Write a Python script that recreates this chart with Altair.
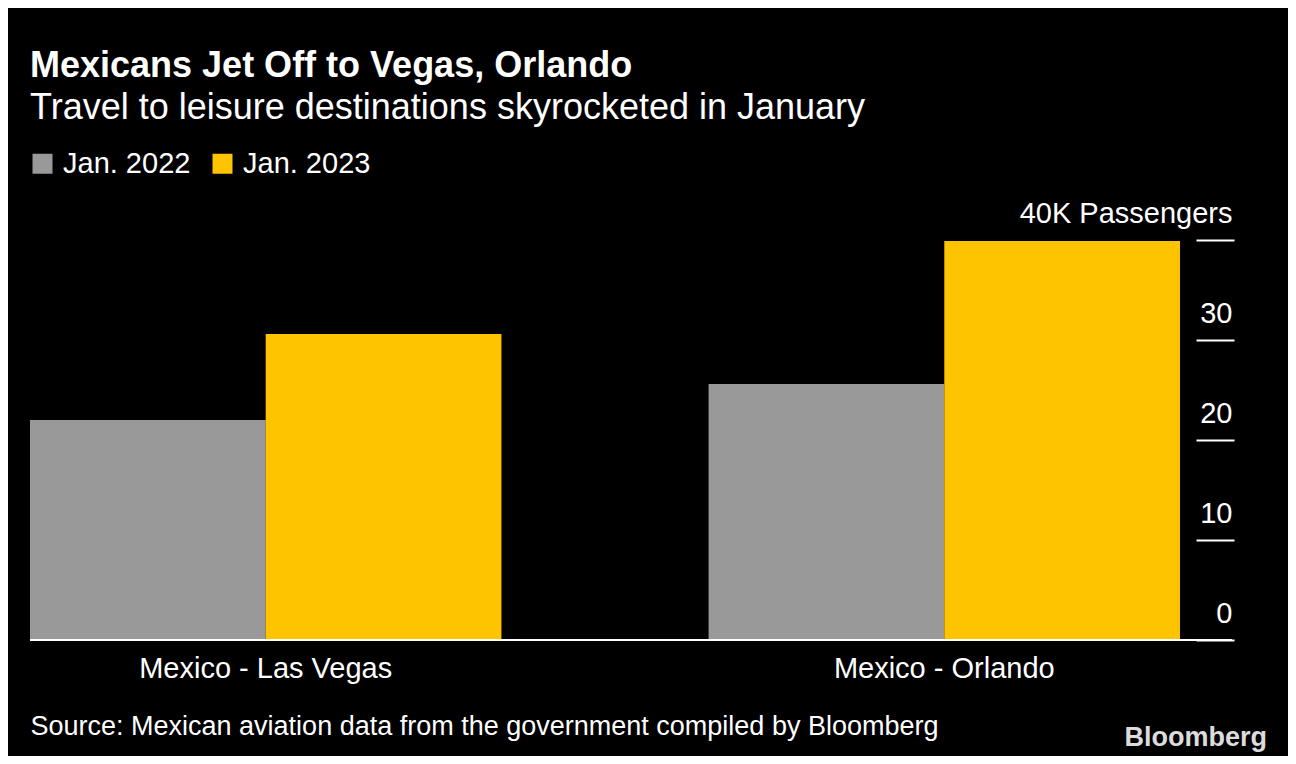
import altair as alt
import pandas as pd

# ---- data ----
routes = ["Mexico - Las Vegas", "Mexico - Las Vegas", "Mexico - Orlando", "Mexico - Orlando"]
periods = ["Jan. 2022", "Jan. 2023", "Jan. 2022", "Jan. 2023"]
passengers_k = [22.0, 30.6, 25.6, 39.9]
series = ["Jan. 2022", "Jan. 2023"]
series_colors = ["#999999", "#FFC400"]
route_order = ["Mexico - Las Vegas", "Mexico - Orlando"]
y_ticks = [0, 10, 20, 30, 40]

title_text = "Mexicans Jet Off to Vegas, Orlando"
subtitle_text = "Travel to leisure destinations skyrocketed in January"
source_text = "Source: Mexican aviation data from the government compiled by Bloomberg"
logo_text = ["Bloomberg"]

df = pd.DataFrame({"route": routes, "period": periods, "value": passengers_k})
FONT = "Liberation Sans"

bars = alt.Chart(df).mark_bar(strokeWidth=0).encode(
    x=alt.X(
        "route:N",
        sort=route_order,
        scale=alt.Scale(paddingInner=0.3053, paddingOuter=0),
        axis=alt.Axis(
            orient="bottom", domain=False, ticks=False, tickSize=0, labelAngle=0,
            labelFont=FONT, labelFontSize=29, labelColor="white", labelLimit=0,
            labelBaseline="alphabetic", labelPadding=37,
            title=source_text, titleX=0, titleY=94, titleAlign="left",
            titleBaseline="alphabetic", titleFont=FONT, titleFontSize=27,
            titleFontWeight="normal", titleColor="white", titleAnchor="start",
            titleLimit=0,
        ),
    ),
    xOffset=alt.XOffset("period:N", sort=series, scale=alt.Scale(paddingInner=0, paddingOuter=0)),
    y=alt.Y(
        "value:Q",
        scale=alt.Scale(domain=[0, 40], nice=False),
        axis=alt.Axis(
            orient="right", values=y_ticks, offset=16, tickSize=38, tickColor="white",
            tickWidth=2, domain=False, grid=False, labelAlign="right", labelPadding=-2,
            labelBaseline="alphabetic", labelOffset=-18, labelFont=FONT, labelFontSize=29,
            labelColor="white", labelOverlap=False, labelBound=False, labelLimit=0,
            labelExpr="datum.value == 40 ? '40K Passengers' : datum.label",
            title=None,
        ),
    ),
    color=alt.Color(
        "period:N",
        scale=alt.Scale(domain=series, range=series_colors),
        legend=alt.Legend(
            orient="none", legendX=-2, legendY=-91, direction="horizontal", title=None,
            symbolType="square", symbolSize=400, symbolStrokeWidth=0, symbolOpacity=1,
            labelFont=FONT, labelFontSize=29, labelColor="white", labelOffset=6,
            columnPadding=17, padding=0,
        ),
    ),
)

zero = alt.Chart(pd.DataFrame({"base": [0]})).mark_rule(color="white", strokeWidth=2).encode(
    y=alt.datum(0), x=alt.value(0), x2=alt.value(1202)
)

logo = alt.Chart(pd.DataFrame({"t": logo_text})).mark_text(
    font=FONT, fontSize=27, fontWeight="bold", color="#dcdcdc", align="right", baseline="alphabetic"
).encode(text="t:N", x=alt.value(1237), y=alt.value(506))

chart = alt.layer(bars, zero, logo).properties(
    width=1150,
    height=400,
    autosize=alt.AutoSizeParams(type="none"),
    padding={"left": 22, "top": 232, "right": 108, "bottom": 116},
    background="black",
    title=alt.TitleParams(
        text=title_text, subtitle=subtitle_text, anchor="start", frame="group",
        font=FONT, fontSize=36, fontWeight="bold", color="white",
        subtitleFont=FONT, subtitleFontSize=36, subtitleColor="white",
        subtitlePadding=6, offset=22,
    ),
).configure_view(stroke=None)

chart.save("out.html", embed_options={"renderer": "svg", "actions": False})
